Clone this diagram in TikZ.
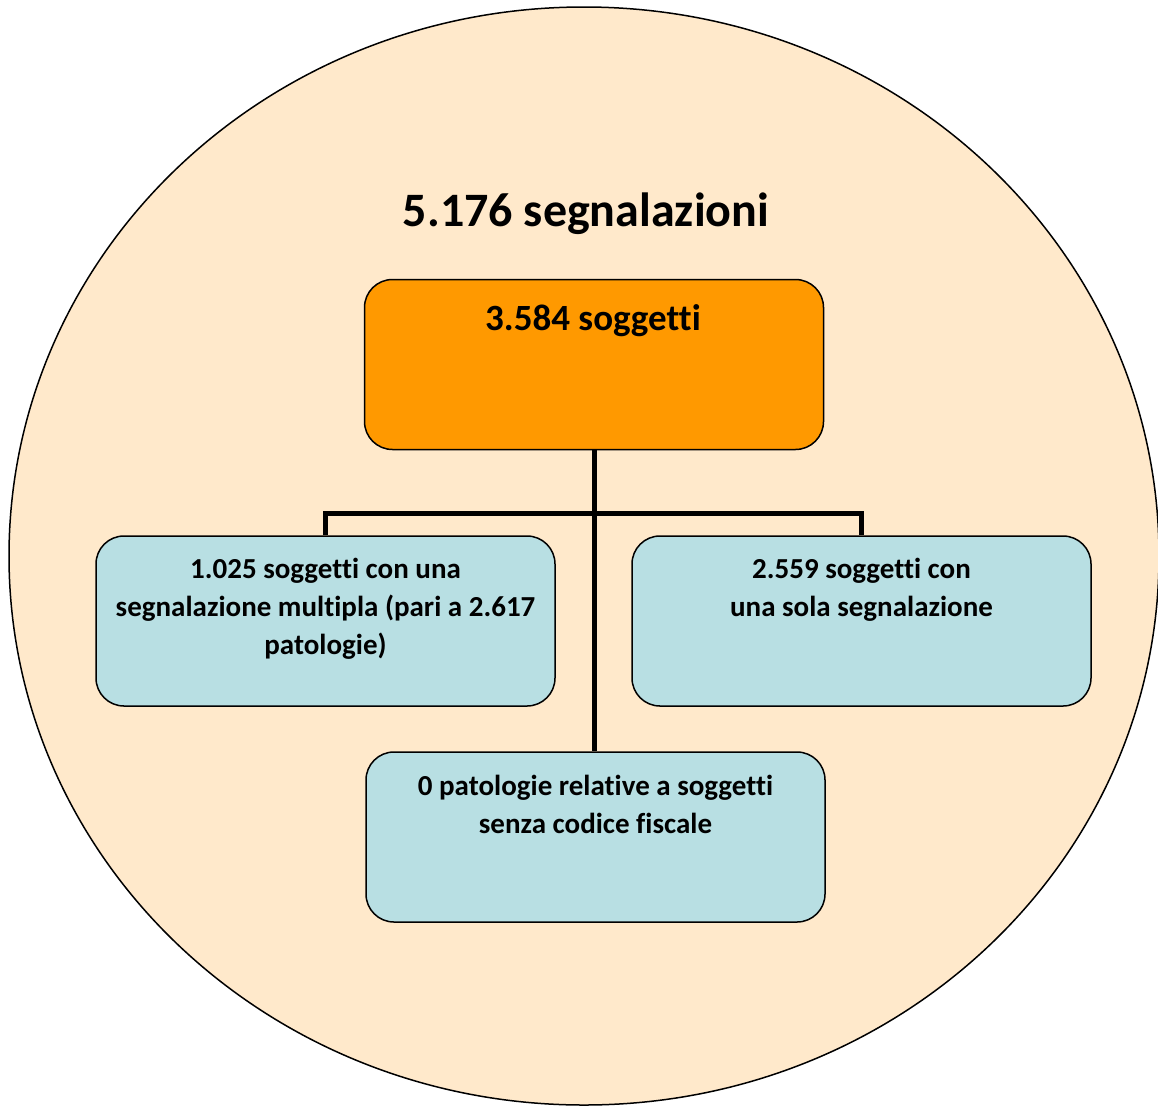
\documentclass[tikz,border=0pt]{standalone}
\usepackage{fontspec}
\setmainfont{Carlito}[Ligatures=NoCommon]
\definecolor{peach}{HTML}{FFE9CB}
\definecolor{orangebox}{HTML}{FF9900}
\definecolor{bluebox}{HTML}{B8DFE3}
\begin{document}
\begin{tikzpicture}[x=1pt,y=-1pt,
  box/.style={draw=black, line width=1.5pt, rounded corners=28pt, minimum width=459pt, minimum height=170pt, inner sep=0pt},
  bluestyle/.style={box, fill=bluebox},
  lbl/.style={font=\bfseries\fontsize{29}{38}\selectfont, align=center, anchor=base, inner sep=0pt},
  conn/.style={line width=5pt, draw=black}]
\useasboundingbox (0,0) rectangle (1158,1106);
\fill[peach] (584,556) ellipse [x radius=575, y radius=549];
\draw[line width=1.5pt] (584,556) ellipse [x radius=575, y radius=549];
\node[font=\bfseries\fontsize{48}{58}\selectfont, anchor=base, inner sep=0pt] (title) at (586,226) {5.176 segnalazioni};
\node[box, fill=orangebox] (top) at (594,364.5) {};
\node[bluestyle] (left) at (325.5,621) {};
\node[bluestyle] (right) at (861.5,621) {};
\node[bluestyle] (bottom) at (595.5,837) {};
\draw[conn] (top.south) -- (top.south |- bottom.north);
\draw[conn] (left.north) -- ++(0,-22) -| (right.north);
\node[lbl, font=\bfseries\fontsize{37}{44}\selectfont] (toptext) at (593,330) {3.584 soggetti};
\node[lbl] (lefttext) at (325.5,654) {1.025 soggetti con una\\segnalazione multipla (pari a 2.617\\patologie)};
\node[lbl] (righttext) at (861.5,616) {2.559 soggetti con\\una sola segnalazione};
\node[lbl] (bottomtext) at (595.5,833) {0 patologie relative a soggetti\\senza codice fiscale};
\end{tikzpicture}
\end{document}
